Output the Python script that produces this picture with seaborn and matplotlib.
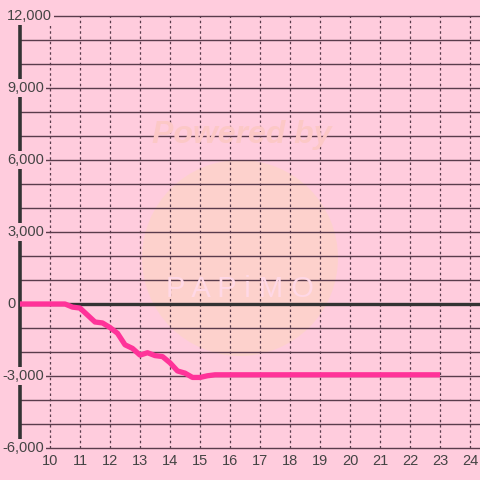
import matplotlib
matplotlib.use("Agg")
import matplotlib.pyplot as plt
import matplotlib.transforms as mtransforms
from matplotlib.patches import Circle
import pandas as pd
import seaborn as sns

# --- data ---
hours = [9.0, 10.5, 10.75, 11.0, 11.5, 11.75, 12.0, 12.25, 12.5, 12.75, 13.0,
         13.25, 13.5, 13.75, 14.0, 14.25, 14.5, 14.75, 15.0, 15.25, 15.5, 23.0]
balance = [0, 0, -130, -170, -750, -790, -980, -1220, -1700, -1850, -2130,
           -2030, -2150, -2190, -2450, -2790, -2880, -3060, -3060, -2990, -2950, -2950]

y_ticks = [12000, 9000, 6000, 3000, 0, -3000, -6000]
x_ticks = list(range(10, 25))

# --- colours ---
_BG = "#ffccdd"
_GRID = "#5a3c4c"
_AXIS = "#333333"
_TEXT = "#444444"
_LINE = "#ff3399"

sns.set_style("white", {"axes.facecolor": _BG, "figure.facecolor": _BG})
plt.rcParams["font.family"] = ["Liberation Sans", "DejaVu Sans"]

fig = plt.figure(figsize=(4.8, 4.8), dpi=100)
ax = fig.add_axes([0, 0, 1, 1])
ax.set_xlim(9 - 20 / 30, 9 + 460 / 30)
ax.set_ylim(-176 / 24 * 1000, 304 / 24 * 1000)

# watermark
ax.add_patch(Circle((240, 480 - 258), 98, transform=None, facecolor="#fdd4c6",
                    edgecolor="none", alpha=0.7, zorder=0))
fig.text(242 / 480, 1 - 135 / 480, "Powered by", ha="center", va="center",
         fontsize=23, fontweight="bold", style="italic", color="#fcc8c6", zorder=1)
fig.text(240 / 480, 1 - 289 / 480, "P A P i M O", ha="center", va="center",
         fontsize=21, color="#ffd8e6", zorder=1)

# grid
ax.hlines(range(-6000, 12001, 1000), 9, ax.get_xlim()[1], color=_GRID,
          linewidth=1, zorder=2)
ax.vlines(x_ticks, -6000, 12000, color=_GRID, linewidth=0.9,
          linestyles=(0, (2, 2.2)), zorder=2)
ax.hlines(0, 9, ax.get_xlim()[1], color=_AXIS, linewidth=2.4, zorder=3)
ax.vlines(9, -6000, 12000, color=_AXIS, linewidth=2.6, zorder=3)

df = pd.DataFrame({"hour": hours, "balance": balance})
sns.lineplot(data=df, x="hour", y="balance", ax=ax, color=_LINE, linewidth=3.8,
             solid_capstyle="butt", solid_joinstyle="round", zorder=4)
ax.axis("off")

# tick labels
trans = mtransforms.blended_transform_factory(ax.transAxes, ax.transData)
for v in y_ticks:
    x0 = 2 / 480 if v < 0 else 7 / 480
    ax.text(x0, v, f"{v:,}", transform=trans, ha="left",
            va="center", fontsize=10.5, color=_TEXT, zorder=5,
            bbox=dict(boxstyle="square,pad=0.15", facecolor=_BG, edgecolor="none"))
for h in x_ticks:
    ax.text(h, -6000 - 13 / 24 * 1000, str(h), ha="center", va="center",
            fontsize=10.5, color=_TEXT, zorder=5)

fig.savefig("out.png", dpi=100, facecolor=_BG)
